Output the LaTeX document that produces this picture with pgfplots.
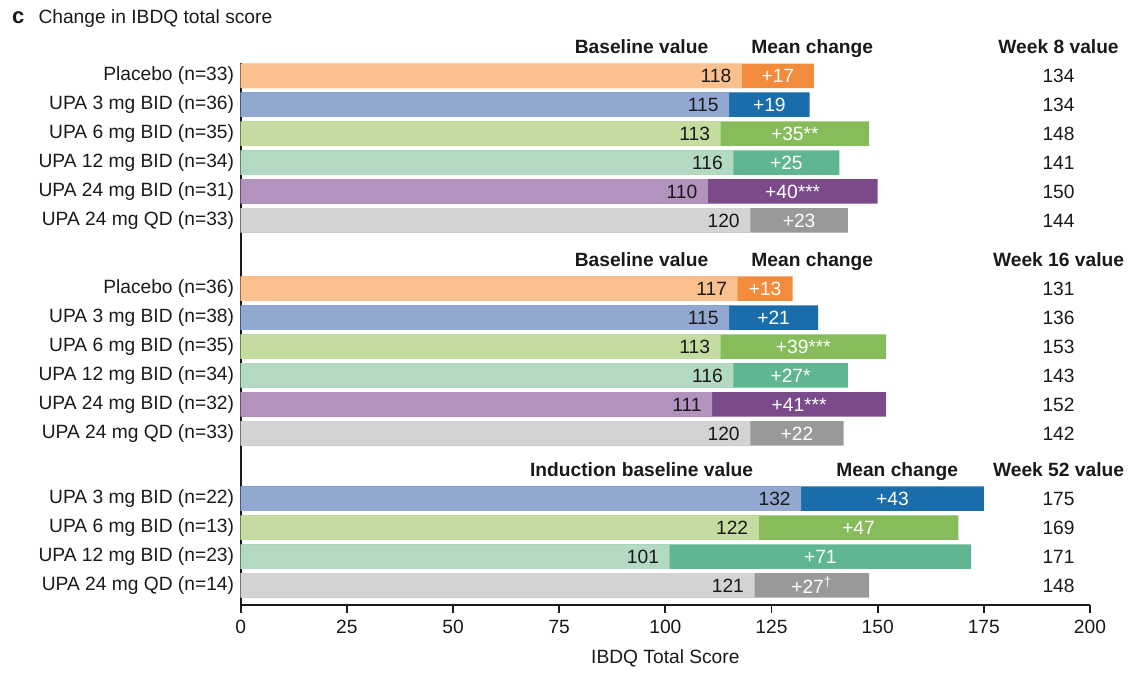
\documentclass[border=0pt]{standalone}
\usepackage{fontspec}
\setmainfont{Liberation Sans}
\usepackage{pgfplots}
\pgfplotsset{compat=1.18}
\newcommand\fs{\fontsize{9.6pt}{11pt}\selectfont}
\definecolor{orL}{RGB}{250,192,142}
\definecolor{orD}{RGB}{242,140,60}
\definecolor{blL}{RGB}{146,168,209}
\definecolor{blD}{RGB}{26,109,171}
\definecolor{grL}{RGB}{197,220,160}
\definecolor{grD}{RGB}{134,188,90}
\definecolor{tlL}{RGB}{179,217,193}
\definecolor{tlD}{RGB}{96,182,144}
\definecolor{puL}{RGB}{177,147,189}
\definecolor{puD}{RGB}{122,74,139}
\definecolor{gyL}{RGB}{211,211,211}
\definecolor{gyD}{RGB}{153,153,153}
\definecolor{txt}{RGB}{26,26,26}
\pgfplotsset{mybar/.style={fill=#1, draw=none, bar shift=0pt, bar width=12.25pt}}
\begin{document}
\begin{tikzpicture}
\begin{axis}[
  scale only axis, width=424.65pt, height=271.15pt,
  xmin=0, xmax=200, ymin=0, ymax=542.3,
  axis lines=left, axis line style={-, line width=0.9pt, color=txt},
  clip=false, xbar,
  xtick={0,25,...,200}, tick align=outside, major tick length=4pt,
  xtick style={line width=0.9pt, color=txt},
  ytick style={draw=none},
  ytick={19.5,48.4,77.4,106.3,171.6,200.6,229.5,258.4,287.4,316.3,384.5,413.5,442.4,471.3,500.3,529.2},
  yticklabels={{UPA 24 mg QD (n=14)},{UPA 12 mg BID (n=23)},{UPA 6 mg BID (n=13)},{UPA 3 mg BID (n=22)},
    {UPA 24 mg QD (n=33)},{UPA 24 mg BID (n=32)},{UPA 12 mg BID (n=34)},{UPA 6 mg BID (n=35)},{UPA 3 mg BID (n=38)},{Placebo (n=36)},
    {UPA 24 mg QD (n=33)},{UPA 24 mg BID (n=31)},{UPA 12 mg BID (n=34)},{UPA 6 mg BID (n=35)},{UPA 3 mg BID (n=36)},{Placebo (n=33)}},
  tick label style={font=\fs, text=txt},
  yticklabel style={xshift=4.2pt},
  /pgf/number format/assume math mode=true,
  xlabel={IBDQ Total Score},
  xlabel style={font=\fs, text=txt, at={(rel axis cs:0.5,0)}, anchor=center, yshift=-26.5pt},
]
% Week 8 / 16 / 52 totals (dark) then baselines (light) drawn over
\addplot[mybar=orD] coordinates {(135,529.2) (130,316.3)};
\addplot[mybar=orL] coordinates {(118,529.2) (117,316.3)};
\addplot[mybar=blD] coordinates {(134,500.3) (136,287.4) (175,106.3)};
\addplot[mybar=blL] coordinates {(115,500.3) (115,287.4) (132,106.3)};
\addplot[mybar=grD] coordinates {(148,471.3) (152,258.4) (169,77.4)};
\addplot[mybar=grL] coordinates {(113,471.3) (113,258.4) (122,77.4)};
\addplot[mybar=tlD] coordinates {(141,442.4) (143,229.5) (172,48.4)};
\addplot[mybar=tlL] coordinates {(116,442.4) (116,229.5) (101,48.4)};
\addplot[mybar=puD] coordinates {(150,413.5) (152,200.6)};
\addplot[mybar=puL] coordinates {(110,413.5) (111,200.6)};
\addplot[mybar=gyD] coordinates {(143,384.5) (142,171.6) (148,19.5)};
\addplot[mybar=gyL] coordinates {(120,384.5) (120,171.6) (121,19.5)};

% title
\node[anchor=base west, inner sep=0pt, font=\fontsize{11pt}{13pt}\selectfont\bfseries, text=txt] at (axis cs:-53.9,581) {c};
\node[anchor=base west, inner sep=0pt, font=\fs, text=txt] at (axis cs:-47.7,581) {Change in IBDQ total score};

% headers
\tikzset{hd/.style={anchor=base, inner sep=0pt, font=\fs\bfseries, text=txt}}
\node[hd] at (axis cs:94.4,551.0) {Baseline value};
\node[hd] at (axis cs:134.6,551.0) {Mean change};
\node[hd] at (axis cs:192.6,551.0) {Week 8 value};
\node[hd] at (axis cs:94.4,338.1) {Baseline value};
\node[hd] at (axis cs:134.6,338.1) {Mean change};
\node[hd] at (axis cs:192.6,338.1) {Week 16 value};
\node[hd] at (axis cs:94.4,128.1) {Induction baseline value};
\node[hd] at (axis cs:154.6,128.1) {Mean change};
\node[hd] at (axis cs:192.6,128.1) {Week 52 value};

% baseline values
\tikzset{bv/.style={anchor=east, inner sep=0pt, font=\fs, text=txt}}
\node[bv] at (axis cs:115.6,529.2) {118};
\node[bv] at (axis cs:112.6,500.3) {115};
\node[bv] at (axis cs:110.6,471.3) {113};
\node[bv] at (axis cs:113.6,442.4) {116};
\node[bv] at (axis cs:107.6,413.5) {110};
\node[bv] at (axis cs:117.6,384.5) {120};
\node[bv] at (axis cs:114.6,316.3) {117};
\node[bv] at (axis cs:112.6,287.4) {115};
\node[bv] at (axis cs:110.6,258.4) {113};
\node[bv] at (axis cs:113.6,229.5) {116};
\node[bv] at (axis cs:108.6,200.6) {111};
\node[bv] at (axis cs:117.6,171.6) {120};
\node[bv] at (axis cs:129.6,106.3) {132};
\node[bv] at (axis cs:119.6,77.4) {122};
\node[bv] at (axis cs:98.6,48.4) {101};
\node[bv] at (axis cs:118.6,19.5) {121};

% mean changes
\tikzset{mc/.style={anchor=center, inner sep=0pt, font=\fs, text=white}}
\node[mc] at (axis cs:126.5,529.2) {+17};
\node[mc] at (axis cs:124.5,500.3) {+19};
\node[mc] at (axis cs:130.5,471.3) {+35**};
\node[mc] at (axis cs:128.5,442.4) {+25};
\node[mc] at (axis cs:130,413.5) {+40***};
\node[mc] at (axis cs:131.5,384.5) {+23};
\node[mc] at (axis cs:123.5,316.3) {+13};
\node[mc] at (axis cs:125.5,287.4) {+21};
\node[mc] at (axis cs:132.5,258.4) {+39***};
\node[mc] at (axis cs:129.5,229.5) {+27*};
\node[mc] at (axis cs:131.5,200.6) {+41***};
\node[mc] at (axis cs:131,171.6) {+22};
\node[mc] at (axis cs:153.5,106.3) {+43};
\node[mc] at (axis cs:145.5,77.4) {+47};
\node[mc] at (axis cs:136.5,48.4) {+71};
\node[mc] at (axis cs:134.5,19.5) {+27\textsuperscript{†}};

% week values
\tikzset{wv/.style={anchor=center, inner sep=0pt, font=\fs, text=txt}}
\node[wv] at (axis cs:192.6,529.2) {134};
\node[wv] at (axis cs:192.6,500.3) {134};
\node[wv] at (axis cs:192.6,471.3) {148};
\node[wv] at (axis cs:192.6,442.4) {141};
\node[wv] at (axis cs:192.6,413.5) {150};
\node[wv] at (axis cs:192.6,384.5) {144};
\node[wv] at (axis cs:192.6,316.3) {131};
\node[wv] at (axis cs:192.6,287.4) {136};
\node[wv] at (axis cs:192.6,258.4) {153};
\node[wv] at (axis cs:192.6,229.5) {143};
\node[wv] at (axis cs:192.6,200.6) {152};
\node[wv] at (axis cs:192.6,171.6) {142};
\node[wv] at (axis cs:192.6,106.3) {175};
\node[wv] at (axis cs:192.6,77.4) {169};
\node[wv] at (axis cs:192.6,48.4) {171};
\node[wv] at (axis cs:192.6,19.5) {148};
\end{axis}
\path (-120.35pt,-31.5pt) rectangle (445.65pt,302.5pt);
\end{tikzpicture}
\end{document}
